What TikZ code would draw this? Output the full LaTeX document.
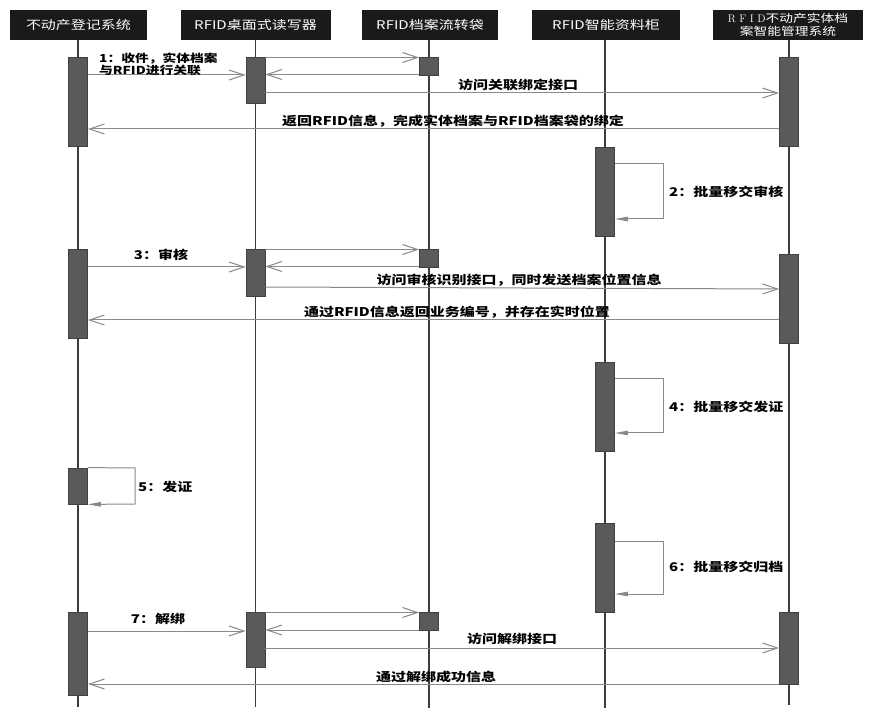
\documentclass[tikz,border=0pt]{standalone}
\usepackage{fontspec}
\newfontfamily\cjk{Noto Sans CJK SC}[FakeStretch=1.25]
\usetikzlibrary{arrows.meta}
\definecolor{hdrblack}{HTML}{1A1A1A}
\definecolor{actgray}{HTML}{5A5A5A}
\definecolor{actdark}{HTML}{404040}
\definecolor{lifegray}{HTML}{3C3C3C}
\definecolor{msggray}{HTML}{8A8A8A}
\tikzset{
  hdr/.style={fill=hdrblack, text=white, font=\cjk\fontsize{12}{14}\selectfont, minimum height=30pt, inner sep=0pt, align=center},
  act/.style={fill=actgray, draw=actdark, line width=0.8pt, minimum width=19pt, inner sep=0pt},
  life/.style={draw=lifegray, line width=1.4pt},
  msg/.style={draw=msggray, line width=1pt, -{Straight Barb[length=15pt,width=10pt,line width=1pt]}},
  selfmsg/.style={draw=msggray, line width=1pt, -{Triangle[length=13pt,width=4.5pt]}},
  lbl/.style={font=\cjk\bfseries\fontsize{12}{13}\selectfont, inner sep=0pt, text=black}
}
\begin{document}
\begin{tikzpicture}[x=1pt,y=-1pt]
\useasboundingbox[fill=white] (0,0) rectangle (871,719);
% headers
\node[hdr, minimum width=137pt] (h1) at (78.5,25) {不动产登记系统};
\node[hdr, minimum width=150pt] (h2) at (255.5,25) {RFID桌面式读写器};
\node[hdr, minimum width=136pt] (h3) at (430,25) {RFID档案流转袋};
\node[hdr, minimum width=148pt] (h4) at (606,25) {RFID智能资料柜};
\node[hdr, minimum width=150pt, font=\cjk\fontsize{11}{13}\selectfont] (h5) at (788,25) {{\rmfamily R F I D}不动产实体档\\案智能管理系统};
% lifeline ends
\coordinate (e1) at (78,707);
\coordinate (e2) at (255.5,707);
\coordinate (e3) at (429,708);
\coordinate (e4) at (605,708);
\coordinate (e5) at (789,705);
\draw[life] (h1.south -| e1) -- (e1);
\draw[life] (h2.south -| e2) -- (e2);
\draw[life] (h3.south -| e3) -- (e3);
\draw[life] (h4.south -| e4) -- (e4);
\draw[life] (h5.south -| e5) -- (e5);
% activation boxes
\node[act, minimum height=89pt] (a11) at (78,101.5) {};
\node[act, minimum height=46pt] (a12) at (255.5,80) {};
\node[act, minimum height=18pt] (a13) at (429,66) {};
\node[act, minimum height=89pt] (a15) at (789,101.5) {};
\node[act, minimum height=89pt] (a24) at (605,191.5) {};
\node[act, minimum height=89pt] (a31) at (78,293.5) {};
\node[act, minimum height=47pt] (a32) at (255.5,272.5) {};
\node[act, minimum height=18pt] (a33) at (429,258) {};
\node[act, minimum height=89pt] (a35) at (789,298.5) {};
\node[act, minimum height=89pt] (a44) at (605,406.5) {};
\node[act, minimum height=36pt] (a51) at (78,486) {};
\node[act, minimum height=89pt] (a64) at (605,567.5) {};
\node[act, minimum height=83pt] (a71) at (78,653.5) {};
\node[act, minimum height=55pt] (a72) at (255.5,639.5) {};
\node[act, minimum height=18pt] (a73) at (429,621) {};
\node[act, minimum height=72pt] (a75) at (789,648) {};
% block 1
\draw[msg] (a11.east |- 0,75) -- (a12.west |- 0,75);
\draw[msg] (a12.east |- 0,57.5) -- (a13.west |- 0,57.5);
\draw[msg] (a13.west |- 0,74.5) -- (a12.east |- 0,74.5);
\draw[msg] (a12.east |- 0,93) -- (a15.west |- 0,93);
\draw[msg] (a15.west |- 0,129) -- (a11.east |- 0,129);
\node[lbl, anchor=north west, align=left, font=\cjk\bfseries\fontsize{11}{11.5}\selectfont] (t1) at (99,53) {1：收件，实体档案\\与RFID进行关联};
\node[lbl] (t1b) at (518,85) {访问关联绑定接口};
\node[lbl] (t1c) at (453,121) {返回RFID信息，完成实体档案与RFID档案袋的绑定};
% block 2
\draw[selfmsg] (a24.east |- 0,164) -- (663,164) -- (663,219) -- (a24.east |- 0,219);
\node[lbl, anchor=west] (t2) at (669,192) {2：批量移交审核};
% block 3
\draw[msg] (a31.east |- 0,267) -- (a32.west |- 0,267);
\draw[msg] (a32.east |- 0,249.5) -- (a33.west |- 0,249.5);
\draw[msg] (a33.west |- 0,266.5) -- (a32.east |- 0,266.5);
\draw[msg] (a32.east |- 0,287) -- (a35.west |- 0,289);
\draw[msg] (a35.west |- 0,320) -- (a31.east |- 0,320);
\node[lbl] (t3) at (161,255) {3：审核};
\node[lbl] (t3b) at (519,280) {访问审核识别接口，同时发送档案位置信息};
\node[lbl] (t3c) at (457,312) {通过RFID信息返回业务编号，并存在实时位置};
% block 4
\draw[selfmsg] (a44.east |- 0,379) -- (663,379) -- (663,433) -- (a44.east |- 0,433);
\node[lbl, anchor=west] (t4) at (669,407) {4：批量移交发证};
% block 5
\draw[selfmsg] (a51.north east) -- (135,468) -- (135,504) -- (a51.south east);
\node[lbl, anchor=west] (t5) at (138,487) {5：发证};
% block 6
\draw[selfmsg] (a64.east |- 0,541) -- (663,541) -- (663,594) -- (a64.east |- 0,594);
\node[lbl, anchor=west] (t6) at (669,567) {6：批量移交归档};
% block 7
\draw[msg] (a71.east |- 0,631) -- (a72.west |- 0,631);
\draw[msg] (a72.east |- 0,612.5) -- (a73.west |- 0,612.5);
\draw[msg] (a73.west |- 0,630) -- (a72.east |- 0,630);
\draw[msg] (a72.east |- 0,648) -- (a75.west |- 0,648);
\draw[msg] (a75.west |- 0,684) -- (a71.east |- 0,684);
\node[lbl] (t7) at (158,619) {7：解绑};
\node[lbl] (t7b) at (512,639) {访问解绑接口};
\node[lbl] (t7c) at (436,677) {通过解绑成功信息};
\end{tikzpicture}
\end{document}
